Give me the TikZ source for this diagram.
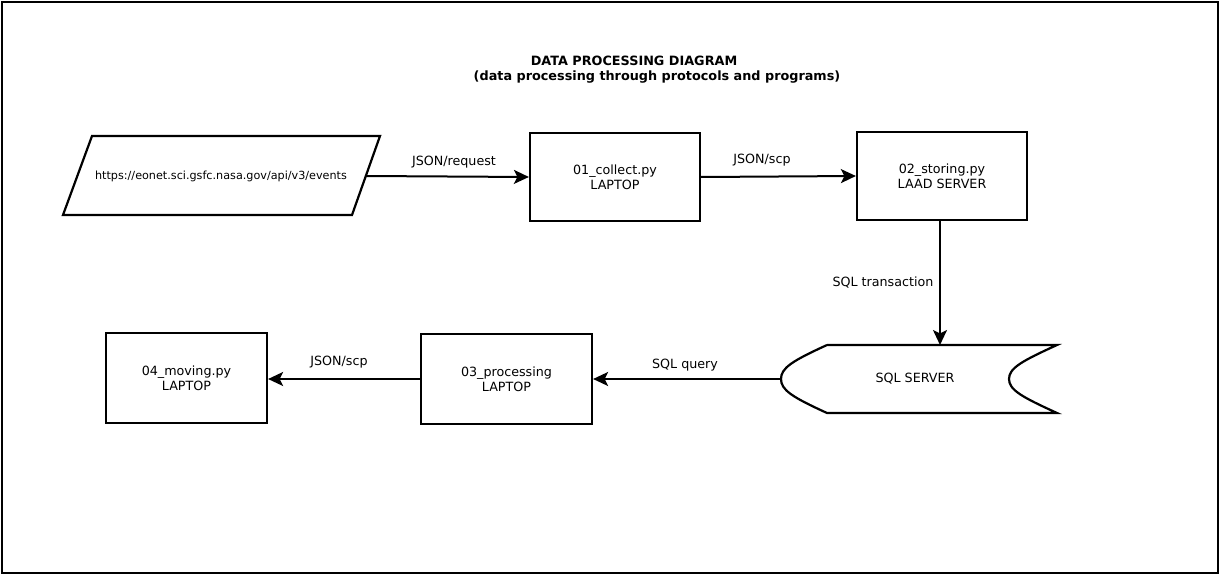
\documentclass[tikz,border=0pt]{standalone}
\usepackage{fontspec}
\setmainfont{DejaVu Sans}
\usetikzlibrary{arrows.meta}
\begin{document}
\begin{tikzpicture}[x=1pt,y=-1pt,
  line width=2.2pt,
  txt/.style={font=\fontsize{12.7}{15}\selectfont, align=center, inner sep=0pt},
  box/.style={draw, txt, minimum width=170pt, minimum height=88pt},
  lbl/.style={txt},
  arr/.style={-{Stealth[length=15pt,width=14pt,inset=3.5pt]}, line width=2pt}]
\useasboundingbox (0,0) rectangle (1220,575);
\draw[line width=2.2pt] (2,2) rectangle (1218,573);
% title
\node[txt, font=\fontsize{12.8}{15}\selectfont\bfseries] (t1) at (634,61) {DATA PROCESSING DIAGRAM};
\node[txt, font=\fontsize{12.8}{15}\selectfont\bfseries] (t2) at (657,77) {(data processing through protocols and programs)};
% source parallelogram
\draw (92,136) -- (380,136) -- (352,215) -- (63,215) -- cycle;
\node[txt, font=\fontsize{11.2}{13}\selectfont] (url) at (221,176) {https://eonet.sci.gsfc.nasa.gov/api/v3/events};
\coordinate (urlR) at (366,176);
% boxes
\node[box] (c1) at (615,177) {01\_collect.py\\LAPTOP};
\node[box] (c2) at (942,176) {02\_storing.py\\LAAD SERVER};
\node[box, minimum width=171pt, minimum height=90pt] (c3) at (506.5,379) {03\_processing\\LAPTOP};
\node[box, minimum width=161pt, minimum height=90pt] (c4) at (186.5,378) {04\_moving.py\\LAPTOP};
% SQL server shape
\draw (827,345) -- (1057,345)
  .. controls (1022,361) and (1009,368) .. (1009,379)
  .. controls (1009,390) and (1022,397) .. (1057,413)
  -- (827,413)
  .. controls (792,397) and (781,390) .. (781,379)
  .. controls (781,368) and (792,361) .. (827,345);
\node[txt] (sql) at (915,379) {SQL SERVER};
\coordinate (sqlT) at (940,345);
\coordinate (sqlL) at (781,379);
% connectors
\draw[arr] (urlR) -- (c1.west);
\draw[arr] (c1.east) -- (c2.west);
\draw[arr] (c2.south -| sqlT) -- (sqlT);
\draw[arr] (sqlL) -- (c3.east);
\draw[arr] (c3.west) -- (c4.east |- c3.west);
% labels
\node[lbl] (l1) at (454,162) {JSON/request};
\node[lbl] (l2) at (762,160) {JSON/scp};
\node[lbl] (l3) at (883,282) {SQL transaction};
\node[lbl] (l4) at (685,365) {SQL query};
\node[lbl] (l5) at (339,362) {JSON/scp};
\end{tikzpicture}
\end{document}
